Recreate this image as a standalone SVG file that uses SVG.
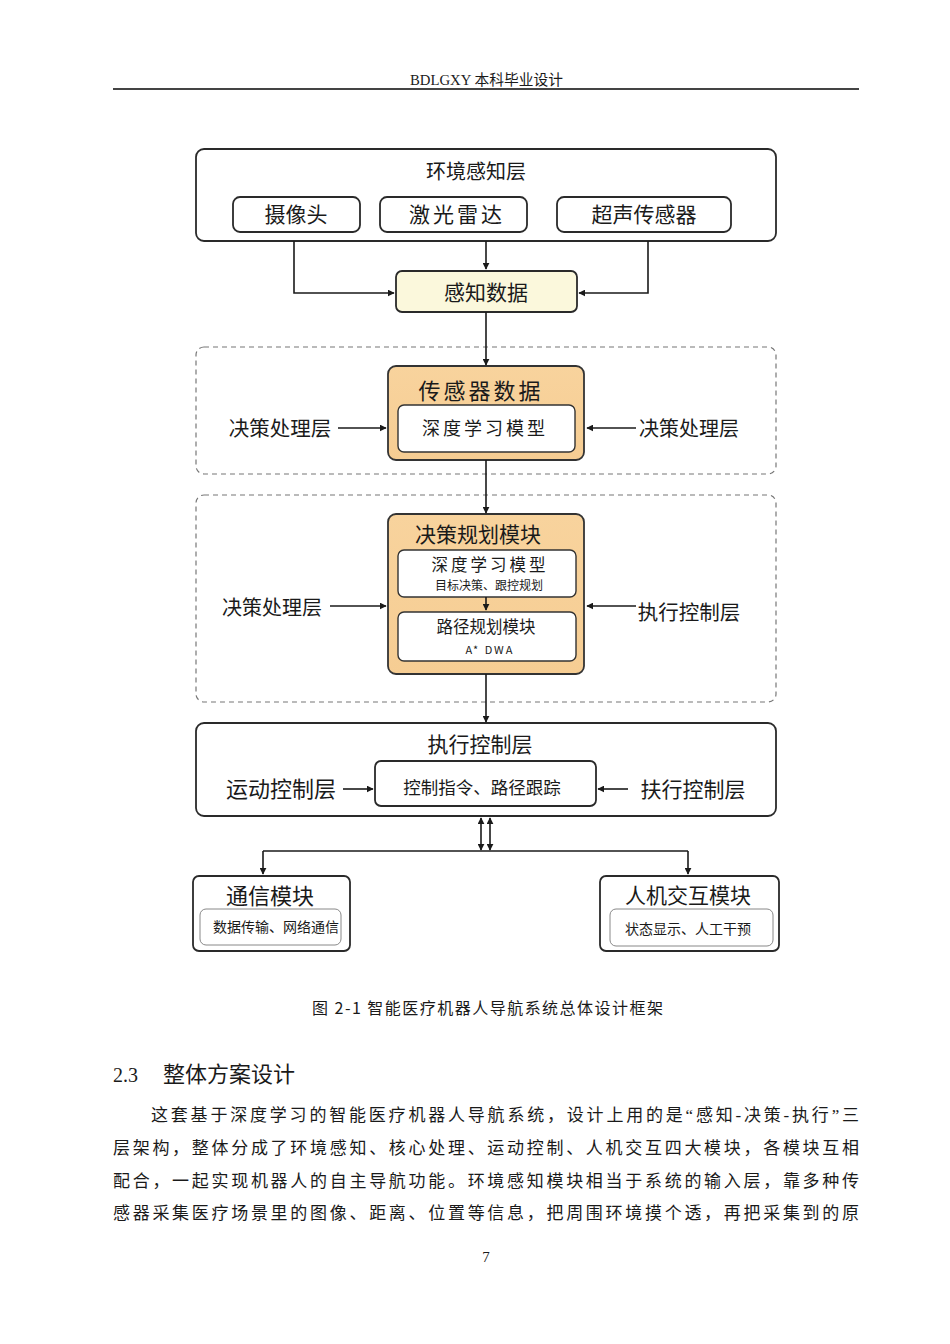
<svg xmlns="http://www.w3.org/2000/svg" width="950" height="1344" viewBox="0 0 950 1344">
<defs>
<style>
.t{font-family:"Noto Sans CJK SC","Liberation Sans",sans-serif;fill:#1a1a1a;text-anchor:middle;dominant-baseline:central}
.s{font-family:"Liberation Serif","Noto Sans CJK SC",serif;fill:#1a1a1a}
.box{fill:#fff;stroke:#2a2a2a;stroke-width:1.8}
.dash{fill:none;stroke:#777;stroke-width:1.2;stroke-dasharray:5 4}
.org{fill:url(#og);stroke:#333;stroke-width:1.8}
.in{fill:#fff;stroke:#333;stroke-width:1.4}
.thin{fill:#fff;stroke:#888;stroke-width:1}
.c{fill:none;stroke:#1a1a1a;stroke-width:1.6}
</style>
<linearGradient id="og" x1="0" y1="0" x2="0" y2="1">
<stop offset="0" stop-color="#f8d39d"/><stop offset="1" stop-color="#f6cd93"/>
</linearGradient>
<marker id="a" viewBox="0 0 10 10" refX="9" refY="5" markerWidth="7" markerHeight="7" orient="auto-start-reverse" markerUnits="userSpaceOnUse">
<path d="M0,0L10,5L0,10z" fill="#1a1a1a"/>
</marker>
</defs>
<rect width="950" height="1344" fill="#fff"/>

<g id="header">
<text x="410" y="85" class="s" font-size="15" textLength="153" lengthAdjust="spacingAndGlyphs">BDLGXY 本科毕业设计</text>
<rect x="113" y="88" width="746" height="2" fill="#444"/>
</g>

<g id="env-layer">
<rect x="196" y="149" width="580" height="92" rx="8" class="box"/>
<text x="476" y="170" class="t" font-size="20">环境感知层</text>
</g>
<g id="camera"><rect x="233" y="197" width="127" height="35" rx="7" class="box"/><text x="296" y="213" class="t" font-size="21">摄像头</text></g>
<g id="lidar"><rect x="380" y="197" width="147" height="35" rx="7" class="box"/><text x="457" y="213" class="t" font-size="21" letter-spacing="3">激光雷达</text></g>
<g id="ultrasonic"><rect x="557" y="197" width="174" height="35" rx="7" class="box"/><text x="644" y="213" class="t" font-size="21">超声传感器</text></g>

<g id="perception-data">
<rect x="396" y="271" width="181" height="41" rx="6" fill="#fbf8dc" stroke="#2a2a2a" stroke-width="1.8"/>
<text x="486" y="291" class="t" font-size="21">感知数据</text>
</g>

<g id="decision-layer-1">
<rect x="196" y="347" width="580" height="127" rx="8" class="dash"/>
<text x="280" y="427" class="t" font-size="20.5">决策处理层</text>
<text x="689" y="427" class="t" font-size="20">决策处理层</text>
</g>
<g id="sensor-data">
<rect x="388" y="366" width="196" height="94" rx="8" class="org"/>
<text x="481" y="389" class="t" font-size="22" letter-spacing="3">传感器数据</text>
<rect x="398" y="405" width="177" height="47" rx="6" class="in"/>
<text x="485" y="427" class="t" font-size="18" letter-spacing="3">深度学习模型</text>
</g>

<g id="decision-layer-2">
<rect x="196" y="495" width="580" height="207" rx="8" class="dash"/>
<text x="272" y="606" class="t" font-size="20">决策处理层</text>
<text x="689" y="611" class="t" font-size="20.5">执行控制层</text>
</g>
<g id="planning-module">
<rect x="388" y="514" width="196" height="160" rx="8" class="org"/>
<text x="478" y="533" class="t" font-size="21">决策规划模块</text>
<rect x="398" y="550" width="178" height="47" rx="6" class="in"/>
<text x="490" y="564" class="t" font-size="16.5" letter-spacing="3">深度学习模型</text>
<text x="489" y="584" class="t" font-size="12">目标决策、跟控规划</text>
<rect x="398" y="612" width="178" height="49" rx="6" class="in"/>
<text x="486" y="626" class="t" font-size="16.5">路径规划模块</text>
<text x="490" y="649" class="t" font-size="11" letter-spacing="2">A* DWA</text>
</g>

<g id="exec-layer">
<rect x="196" y="723" width="580" height="93" rx="8" class="box"/>
<text x="480" y="743" class="t" font-size="21">执行控制层</text>
<text x="281" y="787" class="t" font-size="22">运动控制层</text>
<text x="693" y="788" class="t" font-size="21">扶行控制层</text>
</g>
<g id="control-cmd">
<rect x="375" y="761" width="221" height="45" rx="6" class="box"/>
<text x="482" y="786" class="t" font-size="17.5">控制指令、路径跟踪</text>
</g>

<g id="comm-module">
<rect x="193" y="876" width="157" height="75" rx="6" class="box"/>
<text x="270" y="894" class="t" font-size="22">通信模块</text>
<rect x="200" y="909" width="141" height="36" rx="6" class="thin"/>
<text x="276" y="926" class="t" font-size="14">数据传输、网络通信</text>
</g>
<g id="hmi-module">
<rect x="600" y="876" width="179" height="75" rx="6" class="box"/>
<text x="688" y="894" class="t" font-size="21">人机交互模块</text>
<rect x="610" y="909" width="163" height="37" rx="6" class="thin"/>
<text x="688" y="928" class="t" font-size="14">状态显示、人工干预</text>
</g>

<g id="connectors">
<polyline points="294,241 294,293 394,293" class="c" marker-end="url(#a)"/>
<line x1="486" y1="241" x2="486" y2="269" class="c" marker-end="url(#a)"/>
<polyline points="648,241 648,293 579,293" class="c" marker-end="url(#a)"/>
<line x1="486" y1="312" x2="486" y2="365" class="c" marker-end="url(#a)"/>
<line x1="338" y1="428" x2="386" y2="428" class="c" marker-end="url(#a)"/>
<line x1="636" y1="428" x2="587" y2="428" class="c" marker-end="url(#a)"/>
<line x1="486" y1="460" x2="486" y2="513" class="c" marker-end="url(#a)"/>
<line x1="486" y1="597" x2="486" y2="610" class="c" marker-end="url(#a)"/>
<line x1="330" y1="606" x2="386" y2="606" class="c" marker-end="url(#a)"/>
<line x1="636" y1="606" x2="587" y2="606" class="c" marker-end="url(#a)"/>
<line x1="486" y1="674" x2="486" y2="722" class="c" marker-end="url(#a)"/>
<line x1="343" y1="789" x2="373" y2="789" class="c" marker-end="url(#a)"/>
<line x1="628" y1="789" x2="598" y2="789" class="c" marker-end="url(#a)"/>
<line x1="481" y1="818" x2="481" y2="850" class="c" marker-start="url(#a)" marker-end="url(#a)"/>
<line x1="490" y1="818" x2="490" y2="850" class="c" marker-start="url(#a)" marker-end="url(#a)"/>
<polyline points="263,851 688,851" class="c"/>
<line x1="263" y1="851" x2="263" y2="874" class="c" marker-end="url(#a)"/>
<line x1="688" y1="851" x2="688" y2="874" class="c" marker-end="url(#a)"/>
</g>

<g id="body">
<text x="312" y="1014" font-family="Noto Sans CJK SC,sans-serif" font-size="16" fill="#1a1a1a" textLength="351" lengthAdjust="spacing">图 2-1  智能医疗机器人导航系统总体设计框架</text>
<text x="113" y="1082" class="s" font-size="20">2.3</text>
<text x="163" y="1082" font-family="Noto Sans CJK SC,sans-serif" font-size="22" fill="#1a1a1a">整体方案设计</text>
<text x="151" y="1121" class="s" font-size="17" textLength="708" lengthAdjust="spacing">这套基于深度学习的智能医疗机器人导航系统，设计上用的是“感知-决策-执行”三</text>
<text x="113" y="1154" class="s" font-size="17" textLength="746" lengthAdjust="spacing">层架构，整体分成了环境感知、核心处理、运动控制、人机交互四大模块，各模块互相</text>
<text x="113" y="1187" class="s" font-size="17" textLength="746" lengthAdjust="spacing">配合，一起实现机器人的自主导航功能。环境感知模块相当于系统的输入层，靠多种传</text>
<text x="113" y="1219" class="s" font-size="17" textLength="746" lengthAdjust="spacing">感器采集医疗场景里的图像、距离、位置等信息，把周围环境摸个透，再把采集到的原</text>
<text x="486" y="1262" class="s" font-size="15" text-anchor="middle">7</text>
</g>
</svg>
